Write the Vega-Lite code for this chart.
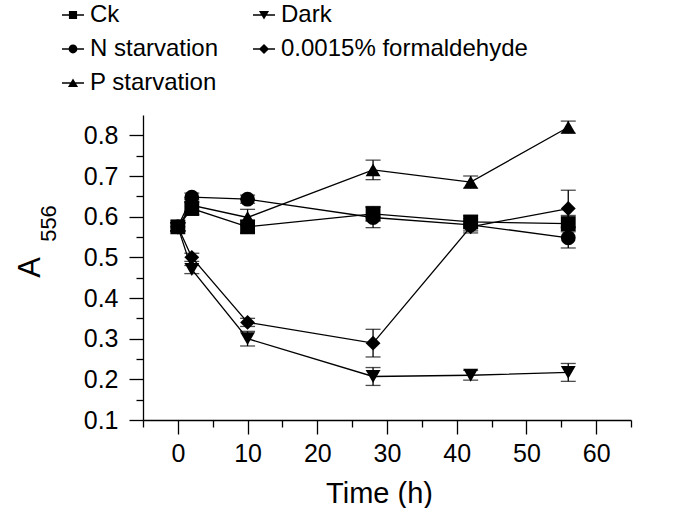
{
  "$schema": "https://vega.github.io/schema/vega-lite/v6.json",
  "width": 488,
  "height": 305,
  "autosize": {"type": "none"},
  "padding": {"left": 143, "top": 115, "right": 52, "bottom": 88},
  "background": "white",
  "config": {
    "view": {"stroke": null},
    "font": "Liberation Sans",
    "axis": {
      "domainColor": "black",
      "domainWidth": 1.3,
      "tickColor": "black",
      "tickWidth": 1.3,
      "labelColor": "black",
      "labelFont": "Liberation Sans",
      "labelFontSize": 25,
      "titleFont": "Liberation Sans",
      "titleColor": "black",
      "titleFontWeight": "normal",
      "grid": false
    }
  },
  "title": {
    "text": "A",
    "orient": "left",
    "anchor": "middle",
    "frame": "group",
    "font": "Liberation Sans",
    "fontSize": 31,
    "fontWeight": "normal",
    "color": "black",
    "offset": -10
  },
  "data": {
    "values": [
      {"series": "Ck", "time": 0, "value": 0.575, "err": 0.01},
      {"series": "Ck", "time": 2, "value": 0.62, "err": 0.015},
      {"series": "Ck", "time": 10, "value": 0.575, "err": 0.015},
      {"series": "Ck", "time": 28, "value": 0.607, "err": 0.018},
      {"series": "Ck", "time": 42, "value": 0.587, "err": 0.015},
      {"series": "Ck", "time": 56, "value": 0.583, "err": 0.02},
      {"series": "N starvation", "time": 0, "value": 0.575, "err": 0.01},
      {"series": "N starvation", "time": 2, "value": 0.648, "err": 0.01},
      {"series": "N starvation", "time": 10, "value": 0.643, "err": 0.01},
      {"series": "N starvation", "time": 28, "value": 0.598, "err": 0.025},
      {"series": "N starvation", "time": 42, "value": 0.58, "err": 0.015},
      {"series": "N starvation", "time": 56, "value": 0.548, "err": 0.025},
      {"series": "P starvation", "time": 0, "value": 0.575, "err": 0.01},
      {"series": "P starvation", "time": 2, "value": 0.628, "err": 0.015},
      {"series": "P starvation", "time": 10, "value": 0.598, "err": 0.02},
      {"series": "P starvation", "time": 28, "value": 0.715, "err": 0.024},
      {"series": "P starvation", "time": 42, "value": 0.685, "err": 0.015},
      {"series": "P starvation", "time": 56, "value": 0.82, "err": 0.015},
      {"series": "Dark", "time": 0, "value": 0.575, "err": 0.01},
      {"series": "Dark", "time": 2, "value": 0.47, "err": 0.01},
      {"series": "Dark", "time": 10, "value": 0.3, "err": 0.018},
      {"series": "Dark", "time": 28, "value": 0.207, "err": 0.022},
      {"series": "Dark", "time": 42, "value": 0.21, "err": 0.012},
      {"series": "Dark", "time": 56, "value": 0.217, "err": 0.022},
      {"series": "0.0015% formaldehyde", "time": 0, "value": 0.575, "err": 0.01},
      {"series": "0.0015% formaldehyde", "time": 2, "value": 0.5, "err": 0.01},
      {"series": "0.0015% formaldehyde", "time": 10, "value": 0.34, "err": 0.01},
      {"series": "0.0015% formaldehyde", "time": 28, "value": 0.289, "err": 0.034},
      {"series": "0.0015% formaldehyde", "time": 42, "value": 0.575, "err": 0.015},
      {"series": "0.0015% formaldehyde", "time": 56, "value": 0.62, "err": 0.045}
    ]
  },
  "encoding": {
    "x": {
      "field": "time",
      "type": "quantitative",
      "scale": {"domain": [-5, 65], "nice": false, "zero": false},
      "axis": {
        "title": "Time (h)",
        "values": [-5, 0, 5, 10, 15, 20, 25, 30, 35, 40, 45, 50, 55, 60, 65],
        "format": "d",
        "labelExpr": "datum.value % 10 === 0 ? datum.label : ''",
        "tickSize": {"condition": {"test": "datum.value % 10 === 0", "value": 14}, "value": 7},
        "labelPadding": 7,
        "labelFlush": false,
        "labelOverlap": false,
        "titleFontSize": 29,
        "titleX": 236,
        "titleY": 82,
        "titleAlign": "center",
        "titleBaseline": "alphabetic"
      }
    },
    "y": {
      "field": "value",
      "type": "quantitative",
      "scale": {"domain": [0.1, 0.85], "nice": false, "zero": false},
      "axis": {
        "title": "556",
        "values": [0.1, 0.15, 0.2, 0.25, 0.3, 0.35, 0.4, 0.45, 0.5, 0.55, 0.6, 0.65, 0.7, 0.75, 0.8],
        "labelExpr": "round(datum.value * 100) % 10 === 0 ? format(datum.value, '.1f') : ''",
        "tickSize": {"condition": {"test": "round(datum.value * 100) % 10 === 0", "value": 14}, "value": 7},
        "labelPadding": 11,
        "labelFlush": false,
        "labelOverlap": false,
        "titleFontSize": 22,
        "titleAngle": -90,
        "titleX": -88,
        "titleY": 108,
        "titleAlign": "center",
        "titleBaseline": "alphabetic"
      }
    }
  },
  "resolve": {"scale": {"shape": "independent"}},
  "layer": [
    {
      "mark": {"type": "line", "color": "black", "strokeWidth": 1.3},
      "encoding": {"detail": {"field": "series", "type": "nominal"}}
    },
    {
      "mark": {"type": "errorbar", "ticks": {"size": 15}, "color": "black", "thickness": 1.3},
      "encoding": {
        "yError": {"field": "err"},
        "detail": {"field": "series", "type": "nominal"}
      }
    },
    {
      "mark": {"type": "point", "filled": true, "color": "black", "opacity": 1, "size": 220},
      "encoding": {
        "shape": {
          "field": "series",
          "type": "nominal",
          "scale": {
            "domain": ["Ck", "N starvation", "P starvation", "Dark", "0.0015% formaldehyde"],
            "range": ["square", "circle", "triangle-up", "triangle-down", "diamond"]
          },
          "legend": null
        }
      }
    },
    {
      "transform": [{"filter": "false"}],
      "mark": {"type": "point", "filled": true, "color": "black", "opacity": 1},
      "encoding": {
        "shape": {
          "field": "series",
          "type": "nominal",
          "scale": {
            "domain": ["Ck", "N starvation", "P starvation", "Dark", "0.0015% formaldehyde"],
            "range": [
              "M-1,-0.06H1V0.06H-1ZM-0.37,-0.37H0.37V0.37H-0.37Z",
              "M-1,-0.06H1V0.06H-1ZM-0.4,0A0.4,0.4 0 1,1 0.4,0A0.4,0.4 0 1,1 -0.4,0Z",
              "M-1,-0.06H1V0.06H-1ZM0,-0.42L0.46,0.36H-0.46Z",
              "M-1,-0.06H1V0.06H-1ZM0,0.42L-0.46,-0.36H0.46Z",
              "M-1,-0.06H1V0.06H-1ZM0,-0.46L0.46,0L0,0.46L-0.46,0Z"
            ]
          },
          "legend": {
            "title": null,
            "orient": "none",
            "legendX": -82,
            "legendY": -112,
            "columns": 2,
            "labelFontSize": 24,
            "labelFont": "Liberation Sans",
            "labelColor": "black",
            "labelLimit": 400,
            "labelOffset": 5,
            "symbolSize": 484,
            "symbolOpacity": 1,
            "symbolFillColor": "black",
            "rowPadding": 10,
            "columnPadding": 31,
            "padding": 0
          }
        }
      }
    }
  ]
}
